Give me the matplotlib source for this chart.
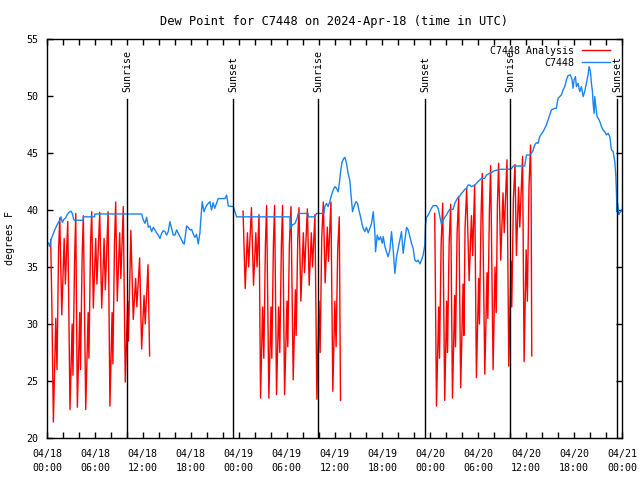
import numpy as np
import matplotlib.pyplot as plt
from matplotlib.transforms import blended_transform_factory

# time axis: hours since 2024-04-18 00:00 UTC
nan = float("nan")

analysis_hours = [
    0.46, 0.6, 0.8, 1.1, 1.25, 1.45, 1.6, 1.85, 2.15, 2.3, 2.6, 2.88,
    3.15, 3.25, 3.45, 3.6, 3.8, 4.1, 4.2, 4.4, 4.55, 4.85, 5.15, 5.25, 5.45,
    5.6, 5.8, 6.1, 6.25, 6.6, 6.85, 7.15, 7.3, 7.65, 7.88, 8.15, 8.25, 8.45,
    8.6, 8.8, 9.1, 9.25, 9.55, 9.8, 10.1, 10.2, 10.5, 10.8, 11.1, 11.25, 11.6,
    11.85, 12.15, 12.3, 12.65, 12.85,
    nan,
    24.55, 24.82, 25.1, 25.25, 25.6, 25.86, 26.15, 26.3, 26.55, 26.74,
    27.0, 27.15, 27.35, 27.5, 27.78, 28.05, 28.15, 28.35, 28.5, 28.74,
    29.0, 29.15, 29.35, 29.5, 29.75, 30.05, 30.15, 30.35, 30.55, 30.83,
    31.1, 31.2, 31.4, 31.55, 31.79, 32.1, 32.25, 32.6, 32.83, 33.1, 33.25,
    33.55, 33.79, 34.05, 34.2, 34.4, 34.6, 34.83, 35.1, 35.25, 35.55, 35.79,
    36.05, 36.2, 36.4, 36.6, 36.75,
    nan,
    48.55, 48.77, 49.05, 49.15, 49.35, 49.55, 49.8, 50.05, 50.15, 50.35,
    50.55, 50.77, 51.05, 51.15, 51.35, 51.55, 51.8, 52.1, 52.2, 52.35, 52.55,
    52.86, 53.15, 53.3, 53.55, 53.77, 54.05, 54.15, 54.35, 54.5, 54.82, 55.1,
    55.2, 55.4, 55.55, 55.86, 56.1, 56.25, 56.4, 56.55, 56.82, 57.1, 57.25,
    57.6, 57.82, 58.1, 58.2, 58.4, 58.6, 58.78, 59.05, 59.2, 59.55, 59.74,
    60.0, 60.15, 60.35, 60.55, 60.62, 60.7,
]
analysis_temp = [
    37.4, 32.0, 21.4, 30.5, 26.0, 36.5, 39.3, 30.8, 37.5, 33.5, 39.0, 22.5,
    30.0, 25.5, 35.5, 39.7, 22.7, 31.0, 26.0, 36.0, 39.5, 22.5, 31.0, 27.0, 37.0,
    39.85, 31.4, 37.5, 33.5, 39.8, 31.4, 37.5, 33.0, 39.85, 22.8, 31.0, 26.5, 37.0,
    40.7, 32.0, 38.0, 34.0, 40.3, 24.9, 32.0, 28.5, 38.2, 30.4, 34.0, 31.5, 35.8,
    27.8, 32.5, 30.0, 35.2, 27.2,
    nan,
    39.9, 33.1, 38.0, 35.0, 40.2, 33.4, 38.0, 35.0, 39.6, 23.5,
    31.5, 27.0, 37.0, 40.4, 23.5, 31.5, 27.0, 37.0, 40.4, 23.8,
    31.5, 27.5, 37.0, 40.4, 23.8, 32.0, 28.0, 37.0, 40.3, 25.1,
    33.0, 29.0, 37.5, 40.2, 32.0, 38.0, 34.5, 40.1, 33.4, 38.0, 35.0,
    39.6, 23.4, 32.0, 27.5, 37.5, 40.7, 33.6, 38.5, 35.5, 40.7, 24.1,
    32.0, 28.0, 36.5, 39.4, 23.3,
    nan,
    39.7, 22.8, 31.5, 27.0, 37.0, 40.6, 23.3, 32.0, 27.5, 37.0,
    40.5, 23.5, 32.5, 28.0, 38.0, 41.2, 24.4, 33.5, 29.0, 38.5, 41.9,
    33.8, 39.5, 36.0, 42.2, 25.3, 34.0, 30.0, 39.5, 43.2, 25.6, 34.5,
    30.5, 40.0, 43.9, 26.0, 35.0, 31.0, 40.5, 44.1, 35.6, 41.5, 38.0,
    44.4, 26.3, 35.5, 31.5, 41.0, 44.0, 36.0, 42.0, 38.5, 44.7, 26.7,
    36.5, 32.0, 42.0, 45.7, 41.8, 27.2,
]

obs_hours = [
    0.17, 0.33, 0.5, 0.67, 0.83, 1.0, 1.2, 1.42, 1.6, 1.75, 1.92, 2.13, 2.33,
    2.54, 2.75, 3.0, 3.17, 3.33, 3.42, 4.5, 4.55, 5.95, 6.0, 11.85,
    12.06, 12.27, 12.48, 12.68, 12.89, 13.1, 13.31, 13.52, 13.72, 13.93, 14.14,
    14.35, 14.56, 14.77, 14.98, 15.18, 15.39, 15.6, 15.81, 16.02, 16.23, 16.44,
    16.65, 16.85, 17.06, 17.19, 17.48, 17.69, 17.9, 18.11, 18.31, 18.52, 18.73,
    18.94, 19.15, 19.27, 19.44, 19.65, 19.9, 20.19, 20.4, 20.6, 20.8, 21.0,
    21.23, 21.44, 22.28, 22.49, 22.7, 23.33, 23.53, 23.74, 30.41, 30.49, 30.74,
    31.04, 31.33, 31.45, 32.7, 32.72, 33.54, 33.75, 34.67, 34.79, 35.0, 35.2,
    35.41, 35.62, 35.83, 36.04, 36.25, 36.46, 36.58, 36.79, 36.96, 37.17, 37.3,
    37.5, 37.71, 37.92, 38.05, 38.26, 38.43, 38.68, 38.89, 39.05, 39.26, 39.47,
    39.6, 39.8, 40.0, 40.22, 40.43, 40.64, 40.85, 41.06, 41.14, 41.35, 41.56,
    41.77, 41.97, 42.1, 42.31, 42.5, 42.72, 42.93, 43.14, 43.35, 43.56, 43.77,
    43.97, 44.18, 44.39, 44.6, 44.81, 45.02, 45.23, 45.43, 45.64, 45.85, 46.06,
    46.27, 46.48, 46.69, 46.89, 47.1, 47.31, 47.4, 47.52, 47.73, 47.94, 48.14,
    48.35, 48.77, 48.98, 49.19, 49.4, 49.6, 49.81, 50.02, 50.23, 50.44, 50.85,
    51.06, 51.27, 51.48, 51.69, 51.9, 52.1, 52.31, 52.52, 52.73, 52.94, 53.15,
    53.57, 53.77, 53.98, 54.19, 54.4, 54.82, 55.03, 55.44, 55.65, 56.07, 56.69,
    57.74, 58.15, 58.36, 59.82, 60.03, 60.45, 60.66, 60.87, 61.07, 61.28, 61.49,
    61.7, 62.12, 62.33, 62.53, 62.74, 62.95, 63.16, 63.57, 63.78, 63.99, 64.2,
    64.41, 64.62, 64.83, 65.04, 65.24, 65.54, 65.75, 65.87, 66.0, 66.17, 66.29,
    66.5, 66.71, 66.92, 67.13, 67.33, 67.54, 67.75, 67.88, 68.05, 68.17, 68.3,
    68.38, 68.51, 68.59, 68.72, 68.88, 69.13, 69.3, 69.43, 69.63, 69.84, 70.05,
    70.26, 70.47, 70.68, 70.89, 71.1, 71.22, 71.3, 71.38, 71.45, 71.6, 71.95,
]
obs_temp = [
    37.1, 36.8, 37.4, 37.7, 38.0, 38.3, 38.6, 38.9, 39.1, 39.4, 38.9, 39.2, 39.3,
    39.6, 39.8, 39.9, 39.7, 39.2, 39.1, 39.1, 39.4, 39.4, 39.65, 39.65,
    39.12, 38.83, 39.36, 38.48, 38.6, 38.1, 38.48, 38.25, 38.0, 37.8, 37.5,
    37.95, 38.19, 38.1, 37.8, 38.1, 38.98, 38.39, 37.8, 37.8, 38.25, 37.95,
    37.66, 37.37, 37.08, 37.02, 38.6, 38.48, 38.25, 38.3, 37.9, 37.6, 37.87,
    37.02, 38.0, 39.27, 40.73, 39.85, 40.29, 40.58, 40.73, 40.0, 40.64, 40.15,
    40.58, 41.0, 41.0, 41.3, 40.35, 40.3, 39.85, 39.4, 39.4, 38.4, 38.7,
    38.8, 39.3, 39.7, 39.7, 39.4, 39.4, 39.7, 39.7, 40.3, 40.58, 40.3,
    40.73, 41.3, 41.75, 42.05, 41.9, 41.6, 42.2, 43.5, 44.24, 44.53, 44.62,
    44.1, 43.2, 42.6, 41.46, 39.85, 40.29, 40.73, 40.58, 40.0, 39.41, 38.68,
    38.39, 38.1, 38.48, 38.0, 38.39, 38.83, 39.85, 37.95, 36.34, 37.8, 37.37,
    37.66, 37.08, 37.66, 36.8, 36.34, 35.9, 36.5, 38.1, 36.5, 34.44, 35.9,
    36.64, 37.37, 38.1, 36.2, 37.37, 38.48, 38.25, 37.66, 37.08, 36.64, 35.6,
    35.47, 35.6, 35.27, 35.6, 36.05, 36.93, 38.68, 39.36, 39.56, 39.85, 40.15,
    40.38, 40.38, 40.15, 39.41, 38.74, 39.12, 39.36, 39.56, 39.85, 40.06, 40.06,
    40.58, 40.88, 41.11, 41.23, 41.46, 41.61, 41.81, 41.9, 42.19, 42.19, 42.05,
    42.19, 42.34, 42.49, 42.63, 42.78, 42.78, 43.07, 43.22, 43.3, 43.45, 43.57,
    43.57, 43.63, 43.86, 43.86, 44.82, 44.82, 44.97, 45.26, 45.7, 45.9, 45.85,
    46.44, 46.87, 47.17, 47.46, 47.9, 48.34, 48.78, 48.92, 48.92, 49.8, 49.95,
    50.09, 50.53, 50.82, 51.41, 51.79, 51.85, 51.41, 50.68, 51.41, 51.7, 50.82,
    51.11, 50.38, 50.82, 49.95, 50.38, 51.11, 51.85, 52.58, 52.14, 51.11, 50.38,
    49.36, 48.48, 49.95, 49.07, 48.19, 47.9, 47.61, 47.31, 47.02, 46.87, 46.58,
    46.73, 46.44, 45.27, 45.12, 44.24, 43.07, 41.61, 39.86, 40.6, 39.6, 40.0,
]

sun_hours = [10.05, 23.3, 33.95, 47.35, 58.0, 71.4]
sun_labels = ["Sunrise", "Sunset", "Sunrise", "Sunset", "Sunrise", "Sunset"]

tick_hours = [0, 6, 12, 18, 24, 30, 36, 42, 48, 54, 60, 66, 72]
tick_days = ["04/18", "04/18", "04/18", "04/18", "04/19", "04/19", "04/19",
             "04/19", "04/20", "04/20", "04/20", "04/20", "04/21"]
tick_times = ["00:00", "06:00", "12:00", "18:00", "00:00", "06:00", "12:00",
              "18:00", "00:00", "06:00", "12:00", "18:00", "00:00"]

plt.rcParams["font.family"] = ["DejaVu Sans Mono"]
plt.rcParams["font.size"] = 7.2

fig = plt.figure(figsize=(6.4, 4.8), dpi=100)
ax = fig.add_axes([47 / 640, 1 - 438 / 480, 575 / 640, 399 / 480])

ax.plot(analysis_hours, analysis_temp, color="#ff0000", lw=1, label="C7448 Analysis")
ax.plot(obs_hours, obs_temp, color="#1a84f0", lw=1, label="C7448")

trans = blended_transform_factory(ax.transData, ax.transAxes)
for t, name in zip(sun_hours, sun_labels):
    ax.axvline(t, ymin=0, ymax=0.85, color="black", lw=1)
    ax.text(t, 0.868, name, rotation=90, ha="center", va="bottom",
            transform=trans)

ax.set_xlim(0, 72)
ax.set_ylim(20, 55)
ax.set_xticks(tick_hours)
ax.set_xticklabels([d + "\n" + h for d, h in zip(tick_days, tick_times)],
                   linespacing=1.5)
ax.set_xticks(np.arange(0, 73, 2), minor=True)
ax.set_yticks(range(20, 56, 5))
ax.tick_params(which="both", direction="in", top=True, right=True,
               length=4, width=1)
ax.tick_params(axis="x", pad=8)
ax.tick_params(axis="y", pad=6)
for s in ax.spines.values():
    s.set_linewidth(1)

ax.set_title("Dew Point for C7448 on 2024-Apr-18 (time in UTC)", pad=10)
ax.set_ylabel("degrees F")
ax.yaxis.set_label_coords(-0.056, 0.5)

ax.legend(loc="upper right", bbox_to_anchor=((610 - 47) / 575, (438 - 46) / 399),
          frameon=False, markerfirst=False, handlelength=2.8,
          handletextpad=0.8, labelspacing=0.2, borderpad=0, borderaxespad=0)

plt.savefig("out.png")
plt.close()
